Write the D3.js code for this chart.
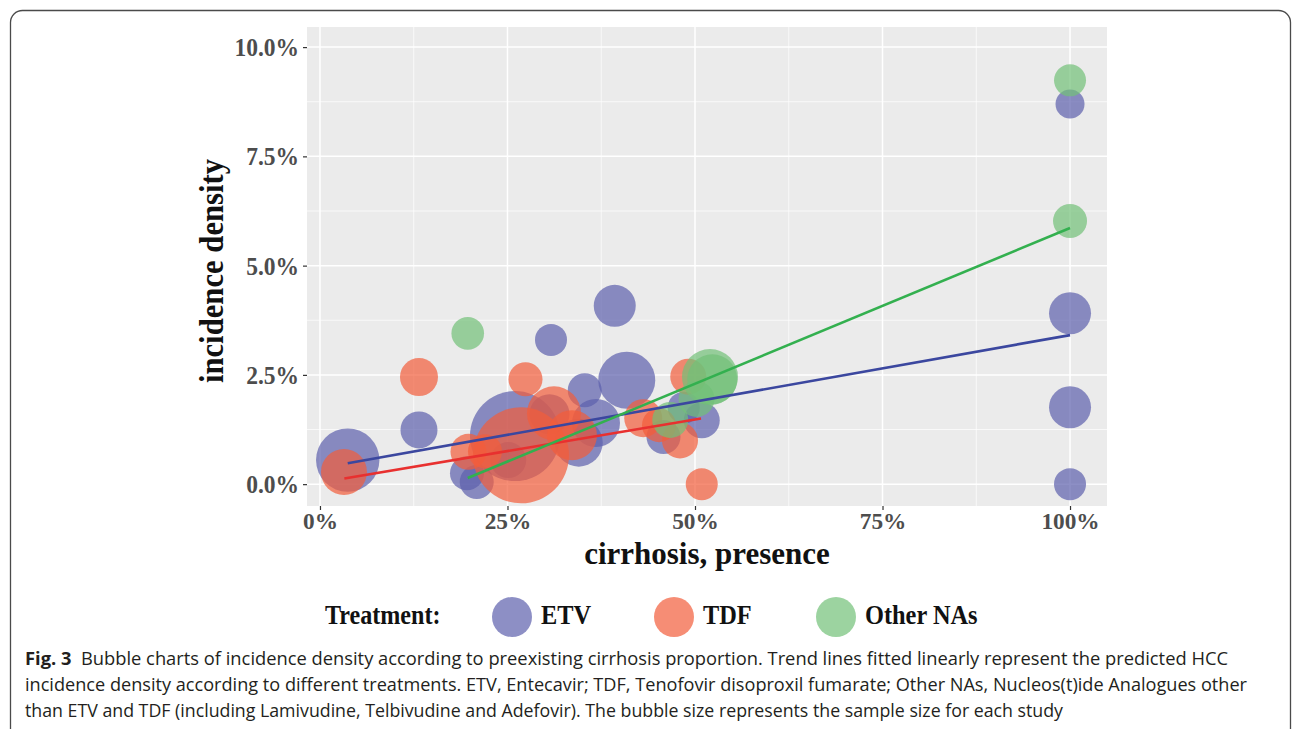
<!DOCTYPE html>
<html><head><meta charset="utf-8">
<script src="https://cdn.jsdelivr.net/npm/d3@7/dist/d3.min.js"></script>
<style>body{margin:0;background:#fff;} svg{display:block;}</style>
</head><body>
<svg id="chart" width="1292" height="729"></svg>
<script>
// ---------- data ----------
const treatments = ["ETV", "TDF", "Other NAs"];
// ETV (Entecavir)
const etvCirrhosis = [3.7, 13.2, 19.6, 20.9, 25.1, 26.0, 30.8, 39.3, 40.9, 35.3, 30.6, 34.5, 36.8, 45.8, 50.9, 48.5, 100, 100, 100, 100];
const etvIncidence = [0.55, 1.24, 0.25, 0.05, 0.55, 1.10, 3.30, 4.08, 2.38, 2.15, 1.60, 0.95, 1.40, 1.08, 1.46, 1.75, 8.70, 3.91, 1.76, 0.00];
const etvSample    = [4020, 1369, 1156, 1156, 1296, 8100, 1024, 1764, 3249, 1156, 1600, 2304, 2304, 1156, 1296, 1024, 841, 1764, 1764, 1024];
// TDF (Tenofovir)
const tdfCirrhosis = [3.2, 13.2, 27.4, 26.8, 19.8, 22.0, 31.2, 33.6, 43.1, 48.0, 49.1, 50.9, 45.2];
const tdfIncidence = [0.28, 2.45, 2.40, 0.66, 0.74, 0.75, 1.62, 1.12, 1.51, 1.00, 2.46, 0.00, 1.35];
const tdfSample    = [2116, 1444, 1156, 9216, 1296, 1156, 2916, 2500, 1444, 1296, 1296, 1024, 1156];
// Other NAs
const otherCirrhosis = [19.7, 46.7, 50.2, 52.0, 52.3, 100, 100];
const otherIncidence = [3.45, 1.47, 1.95, 2.45, 2.40, 9.24, 6.02];
const otherSample    = [1063, 1296, 1296, 3136, 2500, 1024, 1156];
// fitted linear trend lines (end points)
const etvTrendX = [3.7, 100],   etvTrendY = [0.48, 3.41];
const tdfTrendX = [3.25, 50.8], tdfTrendY = [0.13, 1.50];
const otherTrendX = [19.7, 100], otherTrendY = [0.14, 5.86];
// ticks
const xTicks = [0, 25, 50, 75, 100];
const xTickLabels = ["0%", "25%", "50%", "75%", "100%"];
const xMinor = [12.5, 37.5, 62.5, 87.5];
const yTicks = [0, 2.5, 5, 7.5, 10];
const yTickLabels = ["0.0%", "2.5%", "5.0%", "7.5%", "10.0%"];
const yMinor = [1.25, 3.75, 6.25, 8.75];
const captionLines = [
  ["Fig. 3", "  Bubble charts of incidence density according to preexisting cirrhosis proportion. Trend lines fitted linearly represent the predicted HCC"],
  ["", "incidence density according to different treatments. ETV, Entecavir; TDF, Tenofovir disoproxil fumarate; Other NAs, Nucleos(t)ide Analogues other"],
  ["", "than ETV and TDF (including Lamivudine, Telbivudine and Adefovir). The bubble size represents the sample size for each study"]
];

// ---------- styles ----------
const fillColors = {"ETV": "#5c60ac", "TDF": "#f25c3a", "Other NAs": "#72c078"};
const lineColors = {"ETV": "#3b479f", "TDF": "#e8302f", "Other NAs": "#33b04f"};
const bubbleAlpha = 0.7;
const serif = "'Liberation Serif','Times New Roman',serif";

const svg = d3.select("#chart");
const panel = {left: 307, right: 1107, top: 27, bottom: 506};

const x = d3.scaleLinear().domain([-1.73, 104.93]).range([panel.left, panel.right]);
const y = d3.scaleLinear().domain([-0.50, 10.46]).range([panel.bottom, panel.top]);
const r = d3.scaleSqrt().domain([0, 10000]).range([0, 50]);

function squeeze(sel, f) {
  sel.each(function () {
    const w = this.getComputedTextLength();
    this.setAttribute("textLength", w * f);
    this.setAttribute("lengthAdjust", "spacingAndGlyphs");
  });
}

// frame
svg.append("rect").attr("x", 10.5).attr("y", 10.5).attr("width", 1280).attr("height", 740)
  .attr("rx", 12).attr("fill", "none").attr("stroke", "#4a4a4a").attr("stroke-width", 1.3);

// panel
svg.append("rect").attr("x", panel.left).attr("y", panel.top)
  .attr("width", panel.right - panel.left).attr("height", panel.bottom - panel.top)
  .attr("fill", "#ebebeb");

const grid = svg.append("g");
grid.selectAll(".xmin").data(xMinor).join("line")
  .attr("x1", d => x(d)).attr("x2", d => x(d)).attr("y1", panel.top).attr("y2", panel.bottom)
  .attr("stroke", "#fff").attr("stroke-width", 0.7);
grid.selectAll(".ymin").data(yMinor).join("line")
  .attr("y1", d => y(d)).attr("y2", d => y(d)).attr("x1", panel.left).attr("x2", panel.right)
  .attr("stroke", "#fff").attr("stroke-width", 0.7);
grid.selectAll(".xmaj").data(xTicks).join("line")
  .attr("x1", d => x(d)).attr("x2", d => x(d)).attr("y1", panel.top).attr("y2", panel.bottom)
  .attr("stroke", "#fff").attr("stroke-width", 1.5);
grid.selectAll(".ymaj").data(yTicks).join("line")
  .attr("y1", d => y(d)).attr("y2", d => y(d)).attr("x1", panel.left).attr("x2", panel.right)
  .attr("stroke", "#fff").attr("stroke-width", 1.5);

// bubbles
function series(name, xs, ys, ns) {
  return xs.map((v, i) => ({t: name, cx: v, cy: ys[i], n: ns[i]}));
}
const bubbles = [
  ...series("ETV", etvCirrhosis, etvIncidence, etvSample),
  ...series("TDF", tdfCirrhosis, tdfIncidence, tdfSample),
  ...series("Other NAs", otherCirrhosis, otherIncidence, otherSample)
];
svg.append("g").selectAll("circle").data(bubbles).join("circle")
  .attr("cx", d => x(d.cx)).attr("cy", d => y(d.cy)).attr("r", d => r(d.n))
  .attr("fill", d => fillColors[d.t]).attr("fill-opacity", bubbleAlpha);

// trend lines
const trends = [
  {t: "ETV", xs: etvTrendX, ys: etvTrendY},
  {t: "TDF", xs: tdfTrendX, ys: tdfTrendY},
  {t: "Other NAs", xs: otherTrendX, ys: otherTrendY}
];
const line = d3.line().x(d => x(d[0])).y(d => y(d[1]));
svg.append("g").selectAll("path").data(trends).join("path")
  .attr("d", d => line(d.xs.map((v, i) => [v, d.ys[i]])))
  .attr("fill", "none").attr("stroke", d => lineColors[d.t]).attr("stroke-width", 2.6);

// axes
const yAxis = d3.axisLeft(y).tickValues(yTicks).tickFormat((d, i) => yTickLabels[i]).tickSize(4).tickPadding(4);
const gy = svg.append("g").attr("transform", `translate(${panel.left},0)`).call(yAxis);
const xAxis = d3.axisBottom(x).tickValues(xTicks).tickFormat((d, i) => xTickLabels[i]).tickSize(4).tickPadding(3);
const gx = svg.append("g").attr("transform", `translate(0,${panel.bottom})`).call(xAxis);
[gx, gy].forEach(g => {
  g.select(".domain").remove();
  g.selectAll(".tick line").attr("stroke", "#333").attr("stroke-width", 1.2);
  g.selectAll(".tick text").attr("fill", "#4d4d4d").style("font-family", serif)
    .style("font-weight", "bold").style("font-size", "25px");
});
gx.selectAll(".tick text").style("font-size", "24px");
gy.selectAll(".tick text").attr("dy", "0.34em");
gx.selectAll(".tick text").attr("dy", "0.68em");
squeeze(gy.selectAll(".tick text"), 0.94);
squeeze(gx.selectAll(".tick text"), 0.97);

// axis titles
const xt = svg.append("text").attr("x", 707).attr("y", 564).attr("text-anchor", "middle")
  .style("font-family", serif).style("font-weight", "bold").style("font-size", "31px")
  .attr("fill", "#111").text("cirrhosis, presence");
squeeze(xt, 1.0);
const yt = svg.append("text").attr("transform", "translate(223,271) rotate(-90)").attr("text-anchor", "middle")
  .style("font-family", serif).style("font-weight", "bold").style("font-size", "33px")
  .attr("fill", "#111").text("incidence density");
squeeze(yt, 0.93);

// legend
const legend = svg.append("g");
const lt = legend.append("text").attr("x", 325).attr("y", 624).style("font-family", serif)
  .style("font-weight", "bold").style("font-size", "28px").attr("fill", "#111").text("Treatment:");
squeeze(lt, 0.86);
const legendX = [512, 674, 836];
treatments.forEach((t, i) => {
  legend.append("circle").attr("cx", legendX[i]).attr("cy", 617).attr("r", 20)
    .attr("fill", fillColors[t]).attr("fill-opacity", bubbleAlpha);
  const tx = legend.append("text").attr("x", legendX[i] + 29).attr("y", 624).style("font-family", serif)
    .style("font-weight", "bold").style("font-size", "28px").attr("fill", "#111").text(t);
  squeeze(tx, 0.87);
});

// caption
const capWidths = [1203, 1222, 1038];
const capBase = [665, 691, 717];
captionLines.forEach((ln, i) => {
  const t = svg.append("text").attr("x", 25).attr("y", capBase[i])
    .style("font-family", "'Open Sans','Noto Sans',sans-serif").style("font-size", "18px").attr("fill", "#231f20")
    .attr("xml:space", "preserve").style("white-space", "pre");
  if (ln[0]) t.append("tspan").style("font-weight", "bold").text(ln[0]);
  t.append("tspan").text(ln[1]);
  t.attr("textLength", capWidths[i]).attr("lengthAdjust", "spacingAndGlyphs");
});
</script>
</body></html>
